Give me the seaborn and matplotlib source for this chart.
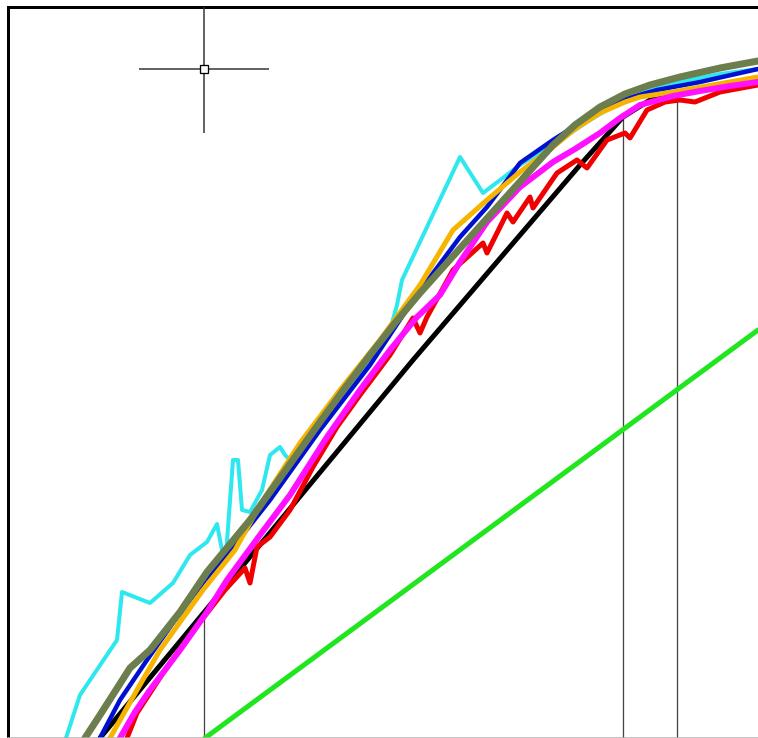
import matplotlib
matplotlib.use("Agg")
import matplotlib.pyplot as plt
import seaborn as sns

olive_x = [85, 100, 130, 150, 180, 207, 250, 320, 345, 370, 395, 420, 490, 553, 575, 600, 625, 650, 680, 720, 758]
olive_y = [738, 715, 668, 650, 612, 572, 520, 422, 388, 355, 323, 293, 215, 145, 125, 107, 94, 85, 77, 68, 61]

blue_x = [100, 120, 147, 177, 205, 233, 270, 320, 370, 413, 460, 487, 520, 553, 575, 600, 625, 657, 700, 740, 758]
blue_y = [738, 700, 660, 617, 580, 547, 500, 430, 365, 300, 237, 207, 163, 140, 126, 111, 99, 90, 82, 73, 69]

orange_x = [110, 137, 160, 203, 235, 260, 300, 340, 380, 420, 453, 487, 520, 553, 575, 600, 625, 640, 673, 707, 758]
orange_y = [738, 690, 650, 590, 550, 505, 443, 390, 340, 285, 230, 200, 172, 147, 129, 113, 102, 97, 92, 86, 77]

magenta_x = [120, 135, 150, 180, 207, 227, 260, 290, 327, 360, 390, 417, 440, 460, 487, 520, 553, 575, 600, 620,
             640, 673, 700, 730, 758]
magenta_y = [738, 712, 690, 650, 612, 580, 535, 495, 437, 390, 350, 317, 295, 262, 222, 187, 162, 149, 133, 118,
             105, 96, 91, 86, 82]

red_x = [127, 137, 165, 200, 225, 245, 250, 257, 270, 290, 313, 337, 360, 390, 413, 420, 427, 453, 483, 487,
         507, 513, 530, 533, 557, 577, 587, 607, 625, 630, 647, 665, 680, 695, 720, 758]
red_y = [738, 713, 670, 622, 590, 568, 583, 547, 537, 510, 467, 427, 395, 355, 318, 333, 317, 270, 243, 253,
         213, 222, 197, 208, 173, 160, 168, 140, 133, 138, 110, 102, 100, 102, 92, 85]

black_x = [100, 413, 580, 623, 650, 700, 758]
black_y = [738, 360, 165, 117, 100, 88, 80]

cyan_x = [66, 80, 117, 122, 150, 173, 190, 207, 217, 222, 226, 233, 238, 242, 250, 262, 270, 280, 285, 290,
          320, 360, 390, 397, 402, 460, 483, 520, 560, 590, 620, 657, 683, 720, 758]
cyan_y = [738, 695, 640, 592, 603, 583, 555, 542, 524, 550, 555, 460, 460, 510, 512, 490, 455, 447, 455, 460,
          425, 372, 330, 305, 280, 157, 193, 165, 140, 120, 102, 88, 81, 74, 69]

green_x = [205, 758]
green_y = [738, 330]

# Drop lines and cursor
drop_x = [204, 623, 677]
drop_top = [613, 116, 90]
cursor_x, cursor_y = 204, 69
cursor_arm_h = 65
cursor_arm_v = 62

series = [
    ("green", green_x, green_y, "#1fe61f", 5),
    ("black", black_x, black_y, "#000000", 5),
    ("cyan", cyan_x, cyan_y, "#2de8ee", 4),
    ("blue", blue_x, blue_y, "#0010d0", 4.5),
    ("orange", orange_x, orange_y, "#f4b400", 5),
    ("red", red_x, red_y, "#f00000", 5),
    ("magenta", magenta_x, magenta_y, "#ff10ff", 6),
    ("olive", olive_x, olive_y, "#6c7d4e", 7),
]

sns.set_style("white")
px = 0.72  # points per pixel at dpi 100
fig = plt.figure(figsize=(7.58, 7.38), dpi=100)
ax = fig.add_axes([8 / 758, 0, 1 - 8 / 758, 1 - 7 / 738])

# thin drop lines behind the curves
ax.vlines(drop_x, drop_top, [738] * len(drop_x), color="#444444", lw=1.3 * px, zorder=1)

for name, xs, ys, col, w in series:
    sns.lineplot(x=xs, y=ys, sort=False, estimator=None, color=col, lw=w * px,
                 ax=ax, zorder=2, solid_joinstyle="round")

# CAD cursor
ax.hlines(cursor_y, cursor_x - cursor_arm_h, cursor_x + cursor_arm_h, color="#333333", lw=1.5 * px, zorder=5)
ax.vlines(cursor_x, 7, cursor_y + cursor_arm_v + 2, color="#333333", lw=1.5 * px, zorder=5)
ax.plot([cursor_x], [cursor_y], marker="s", ms=8 * px, mfc="white", mec="black", mew=1.3 * px, zorder=6)

ax.set_xlim(8, 758)
ax.set_ylim(738, 7)
ax.set_xticks([])
ax.set_yticks([])
for side in ["left", "top"]:
    ax.spines[side].set_color("black")
    ax.spines[side].set_linewidth(3 * px)
ax.spines["right"].set_visible(False)
ax.spines["bottom"].set_color("#b0b0b0")
ax.spines["bottom"].set_linewidth(1.5 * px)

plt.savefig("out.png", dpi=100)
